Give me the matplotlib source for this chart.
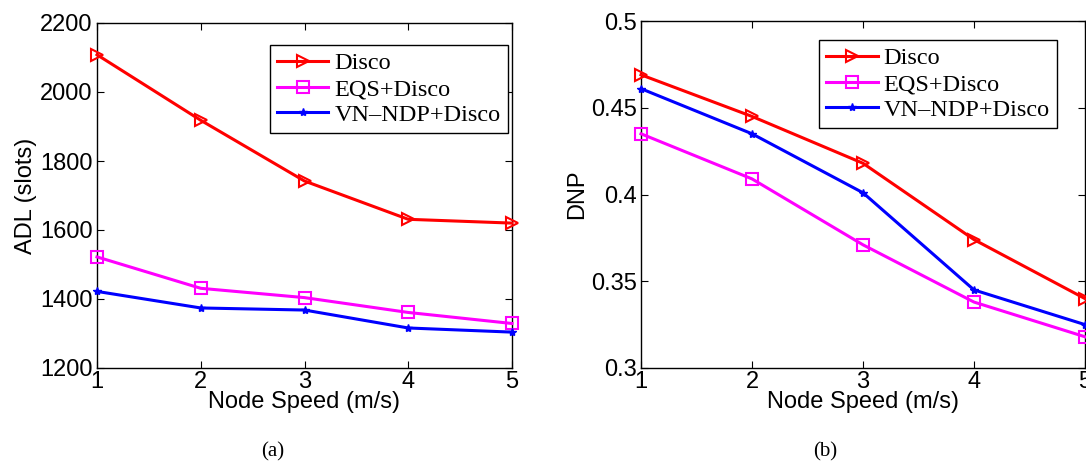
import matplotlib.pyplot as plt

# node speed (m/s)
speed = [1, 2, 3, 4, 5]

# (a) average discovery latency
adl_disco = [2108, 1918, 1742, 1631, 1620]
adl_eqs = [1522, 1431, 1404, 1361, 1329]
adl_vn = [1422, 1374, 1368, 1316, 1304]

# (b) discovered neighbour proportion
dnp_disco = [0.469, 0.445, 0.418, 0.374, 0.340]
dnp_eqs = [0.435, 0.409, 0.371, 0.338, 0.318]
dnp_vn = [0.461, 0.435, 0.401, 0.345, 0.325]

labels = ["Disco", "EQS+Disco", "VN\u2013NDP+Disco"]

W, H = 1086, 463
fig = plt.figure(figsize=(W / 100, H / 100), dpi=100)

sans = "Liberation Sans"
serif = "Liberation Serif"


def px_axes(x0, y0, x1, y1):
    return fig.add_axes([x0 / W, 1 - y1 / H, (x1 - x0) / W, (y1 - y0) / H])


def draw(ax, d1, d2, d3, ylim, yticks, yticklabels, ylabel, anchor):
    ax.plot(speed, d1, color="red", lw=2.2, marker=">", ms=9, mfc="none", mew=1.5,
            clip_on=False, zorder=3, label=labels[0])
    ax.plot(speed, d2, color="magenta", lw=2.2, marker="s", ms=8, mfc="none", mew=1.5,
            clip_on=False, zorder=3, label=labels[1])
    ax.plot(speed, d3, color="blue", lw=2.2, marker="*", ms=6,
            clip_on=False, zorder=3, label=labels[2])
    ax.set_xlim(1, 5)
    ax.set_ylim(*ylim)
    ax.set_xticks(speed)
    ax.set_xticklabels([str(s) for s in speed], fontfamily=sans, fontsize=17)
    ax.set_yticks(yticks)
    ax.set_yticklabels(yticklabels, fontfamily=sans, fontsize=17)
    ax.tick_params(direction="in", top=True, right=True, length=5, width=0.8, pad=2)
    ax.tick_params(axis="y", pad=3)
    ax.set_xlabel("Node Speed (m/s)", fontfamily=sans, fontsize=17, labelpad=-1)
    ax.set_ylabel(ylabel, fontfamily=sans, fontsize=17, labelpad=2)
    for sp in ax.spines.values():
        sp.set_linewidth(1)
    leg = ax.legend(loc="upper right", bbox_to_anchor=anchor, numpoints=1,
                    prop={"family": serif, "size": 17.5}, fancybox=False,
                    edgecolor="black", framealpha=1, handlelength=2.1,
                    handletextpad=0.25, borderpad=0.3, labelspacing=0.15,
                    borderaxespad=0)
    leg.get_frame().set_linewidth(1)


ax1 = px_axes(97, 23, 512, 368)
draw(ax1, adl_disco, adl_eqs, adl_vn, (1200, 2200),
     [1200, 1400, 1600, 1800, 2000, 2200],
     ["1200", "1400", "1600", "1800", "2000", "2200"],
     "ADL (slots)", (0.99, 0.936))

ax2 = px_axes(641, 21, 1085, 368)
draw(ax2, dnp_disco, dnp_eqs, dnp_vn, (0.3, 0.5),
     [0.3, 0.35, 0.4, 0.45, 0.5],
     ["0.3", "0.35", "0.4", "0.45", "0.5"],
     "DNP", (0.937, 0.945))

fig.text(273 / W, 1 - 452 / H, "(a)", fontfamily=serif, fontsize=15, ha="center", va="center")
fig.text(825 / W, 1 - 452 / H, "(b)", fontfamily=serif, fontsize=15, ha="center", va="center")

fig.savefig("out.png", dpi=100)
